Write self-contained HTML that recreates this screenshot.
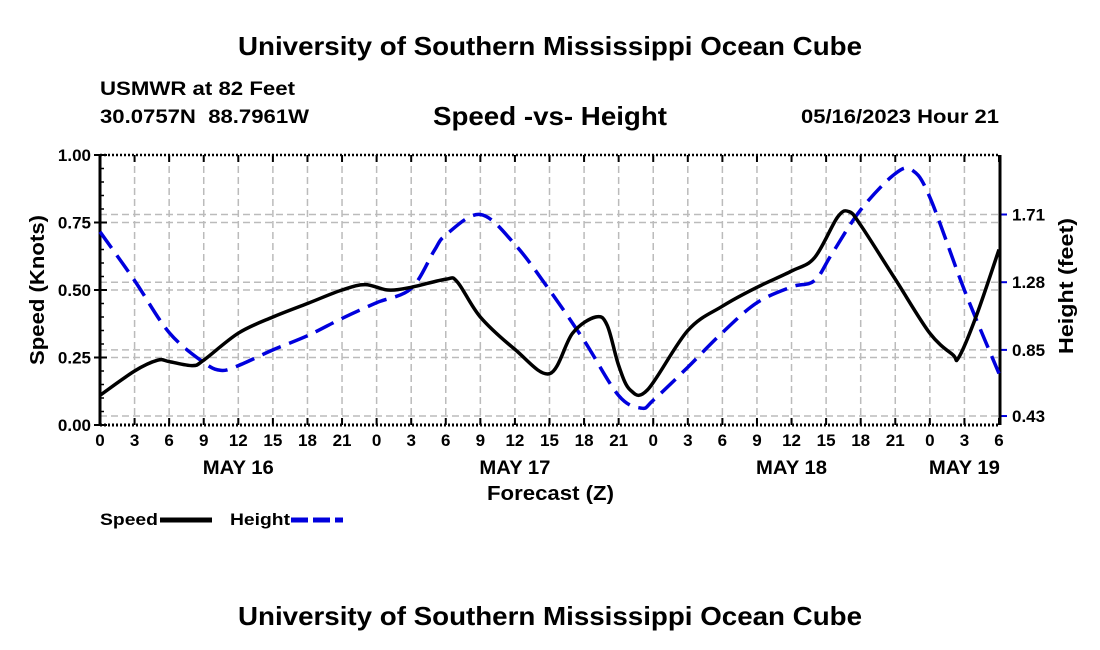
<!DOCTYPE html>
<html><head><meta charset="utf-8">
<style>
html,body{margin:0;padding:0;background:#fff;}
svg{display:block;font-family:"Liberation Sans",Arial,sans-serif;}
</style></head>
<body>
<svg id="chart" width="1100" height="650" viewBox="0 0 1100 650">
<text x="238" y="55" font-size="26" font-weight="bold" textLength="624" lengthAdjust="spacingAndGlyphs">University of Southern Mississippi Ocean Cube</text>
<text x="100" y="95" font-size="19" font-weight="bold" textLength="195" lengthAdjust="spacingAndGlyphs">USMWR at 82 Feet</text>
<text x="100" y="123" font-size="19" font-weight="bold" xml:space="preserve" style="white-space:pre" textLength="209" lengthAdjust="spacingAndGlyphs">30.0757N  88.7961W</text>
<text x="433" y="125" font-size="26" font-weight="bold" textLength="234" lengthAdjust="spacingAndGlyphs">Speed -vs- Height</text>
<text x="801" y="123" font-size="19" font-weight="bold" textLength="198" lengthAdjust="spacingAndGlyphs">05/16/2023 Hour 21</text>
<g id="grid"></g>
<g id="axes"></g>
<g id="series"></g>
<text transform="translate(44,290) rotate(-90)" text-anchor="middle" font-size="20" font-weight="bold" textLength="150" lengthAdjust="spacingAndGlyphs">Speed (Knots)</text>
<text transform="translate(1073,286) rotate(-90)" text-anchor="middle" font-size="20" font-weight="bold" textLength="136" lengthAdjust="spacingAndGlyphs">Height (feet)</text>
<text x="487" y="500" font-size="20" font-weight="bold" textLength="127" lengthAdjust="spacingAndGlyphs">Forecast (Z)</text>
<g>
<text x="100" y="525" font-size="17" font-weight="bold" textLength="58" lengthAdjust="spacingAndGlyphs">Speed</text>
<line x1="160" y1="520" x2="212" y2="520" stroke="#000" stroke-width="5"/>
<text x="230" y="525" font-size="17" font-weight="bold" textLength="60" lengthAdjust="spacingAndGlyphs">Height</text>
<line x1="291" y1="520" x2="343" y2="520" stroke="#0000dd" stroke-width="5" stroke-dasharray="17,5"/>
</g>
<text x="238" y="625" font-size="26" font-weight="bold" textLength="624" lengthAdjust="spacingAndGlyphs">University of Southern Mississippi Ocean Cube</text>
</svg>
<script>
const speedHours=[0,3,5,6,8,9,12,15,18,21,23,25,27,30,31,33,36,39,41,43,44,45,46,47.5,51,54,57,60,62,64,65,66,69,72,74,74.5,76,78];
const speedValues=[0.11,0.20,0.24,0.235,0.22,0.24,0.34,0.40,0.45,0.50,0.52,0.50,0.51,0.54,0.53,0.40,0.28,0.19,0.34,0.40,0.37,0.22,0.13,0.13,0.35,0.44,0.51,0.57,0.62,0.77,0.79,0.74,0.54,0.34,0.26,0.25,0.40,0.65];
const heightHours=[0,3,6,9,10.5,12,15,18,21,24,27,29,30,33,36,39,42,45,47,48,51,54,57,60,62,63.5,66,69,70.5,72,75,78];
const heightValues=[1.60,1.29,0.96,0.77,0.72,0.75,0.85,0.94,1.05,1.15,1.24,1.48,1.58,1.71,1.52,1.23,0.91,0.56,0.48,0.53,0.74,0.96,1.15,1.25,1.29,1.46,1.74,1.97,1.99,1.82,1.23,0.70];
const xTickLabels=["0","3","6","9","12","15","18","21","0","3","6","9","12","15","18","21","0","3","6","9","12","15","18","21","0","3","6"];
const dateLabels=["MAY 16","MAY 17","MAY 18","MAY 19"];
const dateHours=[12,36,60,75];
const speedTicks=[0,0.25,0.5,0.75,1.0];
const heightTicks=[0.43,0.85,1.28,1.71];

const NS="http://www.w3.org/2000/svg";
const X0=100,X1=999,Y0=425,Y1=155,HMAX=78;
const HT_MIN=0.373,HT_MAX=2.088;
const xs=h=>X0+(h/HMAX)*(X1-X0);
const ys=v=>Y0-v*(Y0-Y1);
const yh=v=>Y0-(v-HT_MIN)/(HT_MAX-HT_MIN)*(Y0-Y1);
function mk(tag,attrs,parent){const e=document.createElementNS(NS,tag);for(const k in attrs)e.setAttribute(k,attrs[k]);parent.appendChild(e);return e;}
const grid=document.getElementById('grid'),axes=document.getElementById('axes'),series=document.getElementById('series');
for(let i=0;i<xTickLabels.length;i++){
  const x=xs(i*3);
  if(i>0&&i<xTickLabels.length-1){const g=mk('line',{x1:x,y1:Y1,x2:x,y2:Y0,stroke:'#bbb','stroke-width':1.5,'stroke-dasharray':'7,4'},grid);
  
  }
  const t=mk('line',{x1:x,y1:Y0,x2:x,y2:Y0-7,stroke:'#000','stroke-width':2},axes);
  
  
  const t2=mk('line',{x1:x,y1:Y1,x2:x,y2:Y1+7,stroke:'#000','stroke-width':2},axes);
  
  
  const l=mk('text',{x:x,y:Y0+21,'text-anchor':'middle','font-size':17,'font-weight':'bold'},axes);
  l.textContent=xTickLabels[i];
  
  
}
for(let i=0;i<dateLabels.length;i++){
  const l=mk('text',{x:xs(dateHours[i]),y:Y0+49,'text-anchor':'middle','font-size':19,'font-weight':'bold',textLength:71,lengthAdjust:'spacingAndGlyphs'},axes);
  l.textContent=dateLabels[i];
  
  
}
speedTicks.forEach(v=>{
  const y=ys(v);
  if(v>0&&v<1){const g=mk('line',{x1:X0,y1:y,x2:X1,y2:y,stroke:'#bbb','stroke-width':1.5,'stroke-dasharray':'7,4'},grid);
  
  }
  const t=mk('line',{x1:X0-6,y1:y,x2:X0+7,y2:y,stroke:'#000','stroke-width':2},axes);
  
  
  const l=mk('text',{x:X0-9,y:y+6,'text-anchor':'end','font-size':17,'font-weight':'bold'},axes);
  l.textContent=v.toFixed(2);
  
  
});
for(let v=0.05;v<1;v+=0.05){
  const t=mk('line',{x1:X0,y1:ys(v),x2:X0+4,y2:ys(v),stroke:'#000','stroke-width':1.5},axes);
  
  
}
heightTicks.forEach(v=>{
  const y=yh(v);
  const g=mk('line',{x1:X0,y1:y,x2:X1,y2:y,stroke:'#bbb','stroke-width':1.5,'stroke-dasharray':'7,4'},grid);
  
  
  const t=mk('line',{x1:X1,y1:y,x2:X1+8,y2:y,stroke:'#0000dd','stroke-width':2},axes);
  
  
  const l=mk('text',{x:X1+13,y:y+6,'font-size':17,'font-weight':'bold'},axes);
  l.textContent=v.toFixed(2);
  
  
});
[['left-axis',X0,Y1,X0,Y0,'none',3],['right-axis',X1+1,Y1,X1+1,Y0,'none',3],['bottom-axis',X0,Y0,X1,Y0,'2,2',3],['top-axis',X0,Y1,X1,Y1,'2,2',2.5]].forEach(a=>{
  const e=mk('line',{x1:a[1],y1:a[2],x2:a[3],y2:a[4],stroke:'#000','stroke-width':a[6],'stroke-dasharray':a[5]},axes);
  
  
});
function smooth(pts){
  let d='M'+pts[0][0].toFixed(1)+','+pts[0][1].toFixed(1);
  for(let i=0;i<pts.length-1;i++){
    const p0=pts[Math.max(0,i-1)],p1=pts[i],p2=pts[i+1],p3=pts[Math.min(pts.length-1,i+2)];
    const c1=[p1[0]+(p2[0]-p0[0])/6,p1[1]+(p2[1]-p0[1])/6];
    const c2=[p2[0]-(p3[0]-p1[0])/6,p2[1]-(p3[1]-p1[1])/6];
    d+=' C'+c1[0].toFixed(1)+','+c1[1].toFixed(1)+' '+c2[0].toFixed(1)+','+c2[1].toFixed(1)+' '+p2[0].toFixed(1)+','+p2[1].toFixed(1);
  }
  return d;
}
const hp=mk('path',{d:smooth(heightHours.map((h,i)=>[xs(h),yh(heightValues[i])])),fill:'none',stroke:'#0000dd','stroke-width':3.5,'stroke-dasharray':'20,9'},series);


const sp=mk('path',{d:smooth(speedHours.map((h,i)=>[xs(h),ys(speedValues[i])])),fill:'none',stroke:'#000','stroke-width':3.5},series);


</script>
</body></html>
